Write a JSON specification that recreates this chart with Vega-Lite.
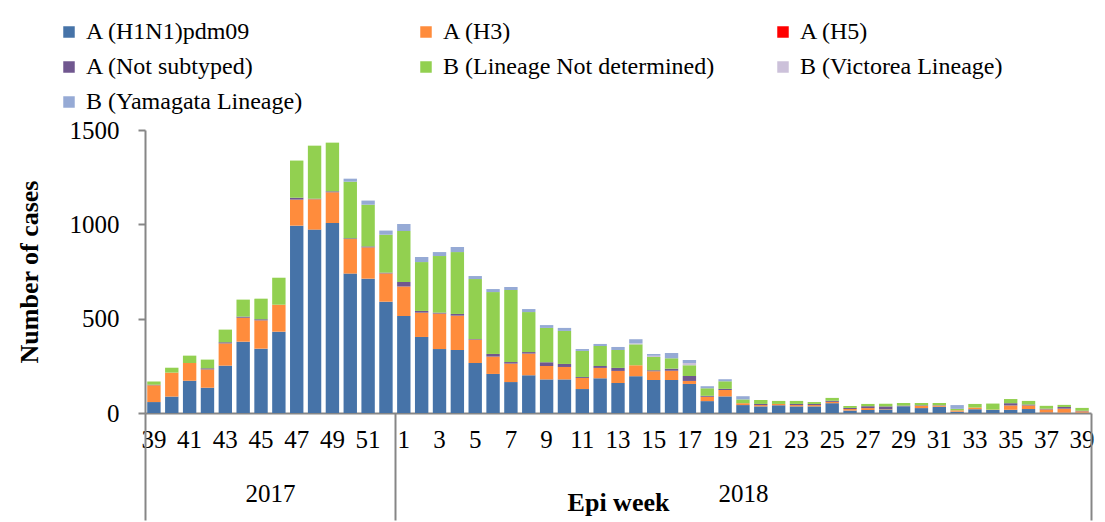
{
  "$schema": "https://vega.github.io/schema/vega-lite/v6.json",
  "width": 946,
  "height": 283,
  "autosize": {"type": "none"},
  "padding": {"left": 145, "top": 130, "right": 14, "bottom": 109},
  "background": "white",
  "config": {
    "font": "Liberation Serif",
    "view": {"stroke": null},
    "axis": {"labelColor": "black", "titleColor": "black", "labelFont": "Liberation Serif", "titleFont": "Liberation Serif"},
    "legend": {"labelFont": "Liberation Serif"}
  },
  "datasets": {
    "flu": [
      {"wk": "2017-39", "a_h1": 58, "b_h3": 89, "d_ns": 3, "e_bnd": 17, "f_vic": 0, "g_yam": 0},
      {"wk": "2017-40", "a_h1": 87, "b_h3": 127, "d_ns": 0, "e_bnd": 26, "f_vic": 0, "g_yam": 0},
      {"wk": "2017-41", "a_h1": 171, "b_h3": 94, "d_ns": 0, "e_bnd": 39, "f_vic": 0, "g_yam": 0},
      {"wk": "2017-42", "a_h1": 134, "b_h3": 97, "d_ns": 6, "e_bnd": 46, "f_vic": 0, "g_yam": 0},
      {"wk": "2017-43", "a_h1": 251, "b_h3": 118, "d_ns": 6, "e_bnd": 67, "f_vic": 0, "g_yam": 0},
      {"wk": "2017-44", "a_h1": 378, "b_h3": 127, "d_ns": 6, "e_bnd": 90, "f_vic": 0, "g_yam": 0},
      {"wk": "2017-45", "a_h1": 341, "b_h3": 150, "d_ns": 6, "e_bnd": 109, "f_vic": 0, "g_yam": 0},
      {"wk": "2017-46", "a_h1": 431, "b_h3": 143, "d_ns": 0, "e_bnd": 143, "f_vic": 0, "g_yam": 0},
      {"wk": "2017-47", "a_h1": 993, "b_h3": 138, "d_ns": 10, "e_bnd": 197, "f_vic": 0, "g_yam": 0},
      {"wk": "2017-48", "a_h1": 972, "b_h3": 161, "d_ns": 3, "e_bnd": 281, "f_vic": 0, "g_yam": 0},
      {"wk": "2017-49", "a_h1": 1007, "b_h3": 163, "d_ns": 5, "e_bnd": 258, "f_vic": 0, "g_yam": 0},
      {"wk": "2017-50", "a_h1": 739, "b_h3": 183, "d_ns": 4, "e_bnd": 300, "f_vic": 0, "g_yam": 16},
      {"wk": "2017-51", "a_h1": 712, "b_h3": 166, "d_ns": 5, "e_bnd": 221, "f_vic": 0, "g_yam": 22},
      {"wk": "2017-52", "a_h1": 590, "b_h3": 150, "d_ns": 4, "e_bnd": 201, "f_vic": 0, "g_yam": 22},
      {"wk": "2018-1", "a_h1": 514, "b_h3": 156, "d_ns": 24, "e_bnd": 271, "f_vic": 0, "g_yam": 37},
      {"wk": "2018-2", "a_h1": 403, "b_h3": 129, "d_ns": 9, "e_bnd": 259, "f_vic": 0, "g_yam": 27},
      {"wk": "2018-3", "a_h1": 339, "b_h3": 188, "d_ns": 5, "e_bnd": 300, "f_vic": 0, "g_yam": 21},
      {"wk": "2018-4", "a_h1": 334, "b_h3": 182, "d_ns": 9, "e_bnd": 328, "f_vic": 0, "g_yam": 27},
      {"wk": "2018-5", "a_h1": 265, "b_h3": 124, "d_ns": 3, "e_bnd": 318, "f_vic": 0, "g_yam": 16},
      {"wk": "2018-6", "a_h1": 207, "b_h3": 92, "d_ns": 14, "e_bnd": 328, "f_vic": 0, "g_yam": 16},
      {"wk": "2018-7", "a_h1": 164, "b_h3": 98, "d_ns": 8, "e_bnd": 382, "f_vic": 0, "g_yam": 16},
      {"wk": "2018-8", "a_h1": 200, "b_h3": 115, "d_ns": 8, "e_bnd": 212, "f_vic": 0, "g_yam": 16},
      {"wk": "2018-9", "a_h1": 178, "b_h3": 71, "d_ns": 20, "e_bnd": 182, "f_vic": 0, "g_yam": 15},
      {"wk": "2018-10", "a_h1": 178, "b_h3": 66, "d_ns": 16, "e_bnd": 175, "f_vic": 0, "g_yam": 16},
      {"wk": "2018-11", "a_h1": 127, "b_h3": 59, "d_ns": 5, "e_bnd": 138, "f_vic": 0, "g_yam": 10},
      {"wk": "2018-12", "a_h1": 184, "b_h3": 55, "d_ns": 10, "e_bnd": 106, "f_vic": 0, "g_yam": 11},
      {"wk": "2018-13", "a_h1": 159, "b_h3": 64, "d_ns": 16, "e_bnd": 95, "f_vic": 0, "g_yam": 16},
      {"wk": "2018-14", "a_h1": 195, "b_h3": 58, "d_ns": 0, "e_bnd": 111, "f_vic": 5, "g_yam": 22},
      {"wk": "2018-15", "a_h1": 175, "b_h3": 46, "d_ns": 5, "e_bnd": 71, "f_vic": 7, "g_yam": 9},
      {"wk": "2018-16", "a_h1": 175, "b_h3": 49, "d_ns": 11, "e_bnd": 55, "f_vic": 0, "g_yam": 28},
      {"wk": "2018-17", "a_h1": 154, "b_h3": 16, "d_ns": 26, "e_bnd": 57, "f_vic": 12, "g_yam": 16},
      {"wk": "2018-18", "a_h1": 63, "b_h3": 23, "d_ns": 5, "e_bnd": 40, "f_vic": 0, "g_yam": 11},
      {"wk": "2018-19", "a_h1": 88, "b_h3": 34, "d_ns": 6, "e_bnd": 40, "f_vic": 0, "g_yam": 11},
      {"wk": "2018-20", "a_h1": 42, "b_h3": 10, "d_ns": 0, "e_bnd": 20, "f_vic": 0, "g_yam": 17},
      {"wk": "2018-21", "a_h1": 35, "b_h3": 7, "d_ns": 6, "e_bnd": 21, "f_vic": 0, "g_yam": 0},
      {"wk": "2018-22", "a_h1": 41, "b_h3": 7, "d_ns": 0, "e_bnd": 16, "f_vic": 0, "g_yam": 0},
      {"wk": "2018-23", "a_h1": 35, "b_h3": 7, "d_ns": 6, "e_bnd": 16, "f_vic": 0, "g_yam": 0},
      {"wk": "2018-24", "a_h1": 35, "b_h3": 7, "d_ns": 6, "e_bnd": 10, "f_vic": 0, "g_yam": 0},
      {"wk": "2018-25", "a_h1": 52, "b_h3": 7, "d_ns": 6, "e_bnd": 15, "f_vic": 0, "g_yam": 0},
      {"wk": "2018-26", "a_h1": 13, "b_h3": 8, "d_ns": 6, "e_bnd": 10, "f_vic": 0, "g_yam": 0},
      {"wk": "2018-27", "a_h1": 16, "b_h3": 10, "d_ns": 10, "e_bnd": 12, "f_vic": 0, "g_yam": 0},
      {"wk": "2018-28", "a_h1": 19, "b_h3": 2, "d_ns": 14, "e_bnd": 14, "f_vic": 0, "g_yam": 0},
      {"wk": "2018-29", "a_h1": 35, "b_h3": 0, "d_ns": 4, "e_bnd": 14, "f_vic": 0, "g_yam": 0},
      {"wk": "2018-30", "a_h1": 26, "b_h3": 12, "d_ns": 3, "e_bnd": 12, "f_vic": 0, "g_yam": 0},
      {"wk": "2018-31", "a_h1": 33, "b_h3": 6, "d_ns": 2, "e_bnd": 12, "f_vic": 0, "g_yam": 0},
      {"wk": "2018-32", "a_h1": 7, "b_h3": 7, "d_ns": 0, "e_bnd": 8, "f_vic": 0, "g_yam": 20},
      {"wk": "2018-33", "a_h1": 20, "b_h3": 9, "d_ns": 0, "e_bnd": 19, "f_vic": 0, "g_yam": 0},
      {"wk": "2018-34", "a_h1": 16, "b_h3": 2, "d_ns": 0, "e_bnd": 32, "f_vic": 0, "g_yam": 0},
      {"wk": "2018-35", "a_h1": 17, "b_h3": 23, "d_ns": 12, "e_bnd": 22, "f_vic": 0, "g_yam": 0},
      {"wk": "2018-36", "a_h1": 21, "b_h3": 19, "d_ns": 5, "e_bnd": 19, "f_vic": 0, "g_yam": 0},
      {"wk": "2018-37", "a_h1": 3, "b_h3": 16, "d_ns": 4, "e_bnd": 15, "f_vic": 0, "g_yam": 0},
      {"wk": "2018-38", "a_h1": 2, "b_h3": 21, "d_ns": 9, "e_bnd": 11, "f_vic": 0, "g_yam": 0},
      {"wk": "2018-39", "a_h1": 2, "b_h3": 7, "d_ns": 3, "e_bnd": 15, "f_vic": 0, "g_yam": 0}
    ],
    "years": [
      {"pos": 0, "year": ""},
      {"pos": 7, "year": "2017"},
      {"pos": 14, "year": ""},
      {"pos": 33.5, "year": "2018"},
      {"pos": 53, "year": ""}
    ]
  },
  "layer": [
    {
      "data": {"name": "flu"},
      "transform": [{"fold": ["a_h1", "b_h3", "d_ns", "e_bnd", "f_vic", "g_yam"], "as": ["type", "n"]}],
      "mark": {"type": "bar"},
      "encoding": {
        "x": {
          "field": "wk",
          "type": "ordinal",
          "sort": null,
          "scale": {"paddingInner": 0.25, "paddingOuter": 0.125},
          "axis": {
            "title": "Epi week",
            "titleFontSize": 26,
            "titleFontWeight": "bold",
            "titleBaseline": "top",
            "titleY": 76,
            "labelExpr": "toNumber(split(datum.value, '-')[1]) % 2 == 1 ? split(datum.value, '-')[1] : ''",
            "labelAngle": 0,
            "labelFontSize": 25,
            "labelPadding": 14,
            "labelOverlap": false,
            "labelFlush": false,
            "ticks": false,
            "domainColor": "#868686",
            "domainWidth": 2,
            "grid": false
          }
        },
        "y": {
          "field": "n",
          "type": "quantitative",
          "stack": "zero",
          "scale": {"domain": [0, 1500], "nice": false},
          "axis": {
            "title": "Number of cases",
            "titleFontSize": 26,
            "titleFontWeight": "bold",
            "titlePadding": 27,
            "values": [0, 500, 1000, 1500],
            "format": "d",
            "labelFontSize": 25,
            "labelPadding": 19,
            "tickSize": 7,
            "tickColor": "#868686",
            "tickWidth": 2,
            "domainColor": "#868686",
            "domainWidth": 2,
            "grid": false
          }
        },
        "order": {"field": "type", "sort": "ascending"},
        "color": {
          "field": "type",
          "type": "nominal",
          "scale": {
            "domain": ["a_h1", "b_h3", "c_h5", "d_ns", "e_bnd", "f_vic", "g_yam"],
            "range": ["#4673A8", "#FF8C3C", "#FF0000", "#70578F", "#92D050", "#CCC1DA", "#96AAD5"]
          },
          "legend": {
            "title": null,
            "orient": "none",
            "legendX": -88,
            "legendY": -110,
            "direction": "horizontal",
            "columns": 3,
            "gridAlign": "all",
            "columnPadding": 56,
            "rowPadding": 11,
            "symbolType": "square",
            "symbolSize": 132,
            "symbolStrokeWidth": 0,
            "labelFontSize": 24,
            "labelColor": "black",
            "labelOffset": 5,
            "labelLimit": 400,
            "labelExpr": "{'a_h1': 'A (H1N1)pdm09', 'b_h3': 'A (H3)', 'c_h5': 'A (H5)', 'd_ns': 'A (Not subtyped)', 'e_bnd': 'B (Lineage Not determined)', 'f_vic': 'B (Victorea Lineage)', 'g_yam': 'B (Yamagata Lineage)'}[datum.value]"
          }
        }
      }
    },
    {
      "data": {"name": "years"},
      "mark": {"type": "rule", "strokeOpacity": 0},
      "encoding": {
        "x": {
          "field": "pos",
          "type": "quantitative",
          "scale": {"domain": [0, 53], "nice": false, "zero": false},
          "axis": {
            "orient": "bottom",
            "title": null,
            "values": [0, 7, 14, 33.5, 53],
            "labelExpr": "datum.value == 7 ? '2017' : datum.value == 33.5 ? '2018' : ''",
            "labelFontSize": 25,
            "labelPadding": -39,
            "labelFlush": false,
            "labelOverlap": false,
            "tickSize": 107,
            "tickWidth": 2,
            "tickColor": "#868686",
            "tickOpacity": {"condition": {"test": "datum.value == 7 || datum.value == 33.5", "value": 0}, "value": 1},
            "domain": false,
            "grid": false
          }
        }
      }
    }
  ],
  "resolve": {"scale": {"x": "independent", "color": "independent"}}
}
